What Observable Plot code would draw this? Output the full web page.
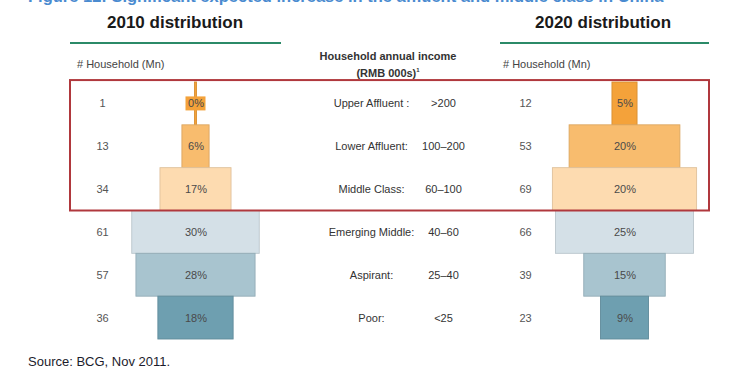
<!DOCTYPE html>
<html>
<head>
<meta charset="utf-8">
<script src="https://cdn.jsdelivr.net/npm/d3@7"></script>
<script src="https://cdn.jsdelivr.net/npm/@observablehq/plot@0.6"></script>
<style>
  html, body { margin: 0; padding: 0; background: #fff; }
  #wrap { position: relative; width: 743px; height: 392px; overflow: hidden; font-family: "Liberation Sans", Arial, sans-serif; }
  #wrap svg { position: absolute; left: 0; top: 0; }
  .abs { position: absolute; white-space: nowrap; }
  .fig { left: 28px; top: -13.5px; font-size: 16.5px; line-height: 19px; font-weight: bold; color: #4a8bd0; }
  .dist { font-size: 17px; font-weight: bold; color: #1a1a1a; transform: translateX(-50%); }
  .rule { height: 2px; background: #2b8a68; }
  .hh { font-size: 11px; color: #444; }
  .inc { font-size: 11px; font-weight: bold; color: #333; text-align: center; transform: translateX(-50%); line-height: 14px; }
  .src { left: 28px; top: 354px; font-size: 13px; color: #1c1c2c; }
</style>
</head>
<body>
<div id="wrap">
  <div class="abs fig">Figure 12: Significant expected increase in the affluent and middle class in China</div>
  <div class="abs dist" style="left:175px; top:13px;">2010 distribution</div>
  <div class="abs dist" style="left:603px; top:13px;">2020 distribution</div>
  <div class="abs rule" style="left:70px; top:42px; width:211px;"></div>
  <div class="abs rule" style="left:500px; top:42px; width:209px;"></div>
  <div class="abs hh" style="left:77px; top:58px;"># Household (Mn)</div>
  <div class="abs hh" style="left:503px; top:58px;"># Household (Mn)</div>
  <div class="abs inc" style="left:388px; top:49px;">Household annual income<br>(RMB 000s)<sup style="font-size:6px">1</sup></div>
  <div class="abs src">Source: BCG, Nov 2011.</div>
</div>
<script>
// ---- data ----
const categories = ["Upper Affluent :", "Lower Affluent:", "Middle Class:", "Emerging Middle:", "Aspirant:", "Poor:"];
const incomeRanges = [">200", "100–200", "60–100", "40–60", "25–40", "<25"];
const households2010 = [1, 13, 34, 61, 57, 36];
const share2010 = ["0%", "6%", "17%", "30%", "28%", "18%"];
const households2020 = [12, 53, 69, 66, 39, 23];
const share2020 = ["5%", "20%", "20%", "25%", "15%", "9%"];
const segmentColors = ["#f4a23a", "#f8bc6e", "#fddbb0", "#d4e0e7", "#a8c4cf", "#6e9fb0"];

// ---- layout (pixels) ----
const K = 2.09;               // px per million households
const W = 743, H = 392;
const px = v => v / K;        // pixel position -> x data units
const center2010 = px(195.5), center2020 = px(624.5);
const count2010X = px(102), count2020X = px(525);
const labelX = px(371), rangeX = px(443);

const bars = [];
categories.forEach((c, i) => {
  bars.push({i, year: 2010, center: center2010, hh: households2010[i], share: share2010[i], color: segmentColors[i]});
  bars.push({i, year: 2020, center: center2020, hh: households2020[i], share: share2020[i], color: segmentColors[i]});
});
const rows = categories.map((c, i) => ({i, label: c, range: incomeRanges[i], h10: households2010[i], h20: households2020[i]}));

const chart = Plot.plot({
  width: W, height: H, margin: 0,
  style: {fontFamily: "Liberation Sans, Arial, sans-serif", background: "transparent", overflow: "visible"},
  x: {domain: [0, W / K], range: [0, W], axis: null},
  y: {domain: [0, 6], range: [82, 339], axis: null},
  color: {type: "identity"},
  marks: [
    Plot.rect(bars, {
      x1: d => d.center - d.hh / 2, x2: d => d.center + d.hh / 2,
      y1: d => d.i, y2: d => d.i + 1,
      fill: d => d.color,
      stroke: d => d3.color(d.color).darker(0.35).formatHex(),
      strokeWidth: 0.9
    }),
    // background tag for labels on bars too narrow to hold them
    Plot.rect(bars.filter(d => d.hh * K < 20), {
      x1: d => d.center, x2: d => d.center,
      y1: d => d.i + 0.5, y2: d => d.i + 0.5,
      insetLeft: -10, insetRight: -10, insetTop: -7, insetBottom: -7,
      fill: d => d.color
    }),
    Plot.text(bars, {x: d => d.center, y: d => d.i + 0.5, text: d => d.share, fontSize: 11, fill: "#4a4a4a"}),
    Plot.text(rows, {x: count2010X, y: d => d.i + 0.5, text: d => String(d.h10), fontSize: 11, fill: "#555"}),
    Plot.text(rows, {x: count2020X, y: d => d.i + 0.5, text: d => String(d.h20), fontSize: 11, fill: "#555"}),
    Plot.text(rows, {x: labelX, y: d => d.i + 0.5, text: d => d.label, fontSize: 11, fill: "#333"}),
    Plot.text(rows, {x: rangeX, y: d => d.i + 0.5, text: d => d.range, fontSize: 11, fill: "#333"}),
    // highlight box around the affluent + middle class rows
    Plot.rect([{from: 0, to: 3}], {
      x1: px(70), x2: px(709), y1: d => d.from - 0.045, y2: d => d.to,
      fill: "none", stroke: "#b0383d", strokeWidth: 2
    })
  ]
});
document.getElementById("wrap").prepend(chart);
</script>
</body>
</html>
